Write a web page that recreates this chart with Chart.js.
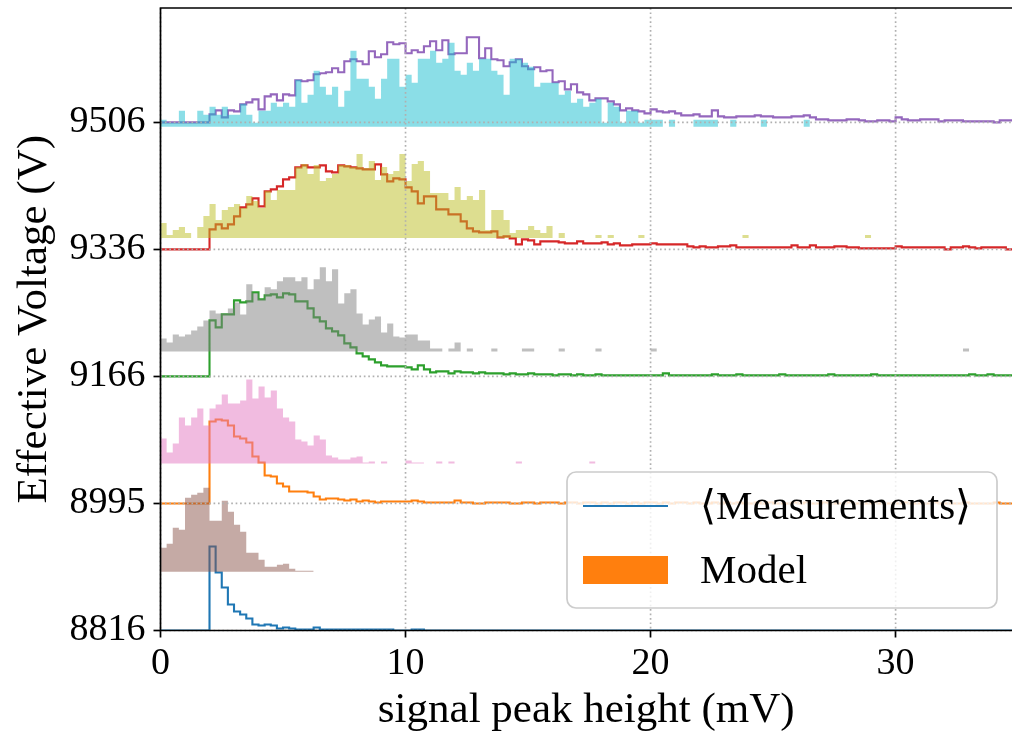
<!DOCTYPE html>
<html>
<head>
<meta charset="utf-8">
<script src="https://cdn.jsdelivr.net/npm/chart.js@4.4.1/dist/chart.umd.min.js"></script>
<style>
  html, body { margin: 0; padding: 0; background: #fff; }
  #wrap { width: 1012px; height: 737px; }
</style>
</head>
<body>
<div id="wrap"><canvas id="c" width="1012" height="737"></canvas></div>
<script>
// Histogram binning (mV)
const BIN_WIDTH = 0.25;
const X_MAX = 34.75;
const X_TICKS = [0, 10, 20, 30];

// Effective voltages, one ridge row each (bottom to top)
const VOLTAGES = ['8816', '8995', '9166', '9336', '9506'];

// Height units per row spacing, and where each model histogram sits inside its row
const ROW_SPAN = 127;
const MODEL_BASE = [0.463, 0.315, 0.197, 0.09, -0.035];
const Y_MAX = 4.9;

// Averaged measurements, one value per 0.25 mV bin
const meas8816 = [
  0,0,0,0,0,0,0,0,
  84,58,43,26,19,16,12,6,5,6,5,2,
  3,2,1,1,1,3,1,1,1,1,1,1,
  1,1,1,1,1,1,0,0,0,1,1,0,
  0,0,0,0,0,0,0,0,0,0,0,0,
  0,0,0,0,0,0,0,0,0,0,0,0,
  0,0,0,0,0,0,0,0,0,0,0,0,
  0,0,0,0,0,0,0,0,0,0,0,0,
  0,0,0,0,0,0,0,0,0,0,0,0,
  0,0,0,0,0,0,0,0,0,0,0,0,
  0,0,0,0,0,0,0,0,0,0,0,0,
  0,0,0,0,0,0,0,0,0,0,0
];
const meas8995 = [
  0,0,0,0,0,0,0,0,
  82,84,83,78,67,65,61,47,41,28,27,20,
  17,12,12,12,11,7,4,5,5,4,3,4,
  2,3,2,1,2,2,2,2,2,3,2,1,
  1,1,1,1,3,1,1,0,0,1,1,1,
  1,0,0,1,1,0,1,1,1,0,1,1,
  0,1,1,0,1,0,1,1,0,1,0,1,
  1,0,1,0,1,1,0,1,0,0,1,0,
  1,0,1,0,0,1,0,1,0,0,0,1,
  0,1,0,0,1,0,0,0,1,0,0,0,
  1,0,0,0,0,1,0,0,0,0,1,0,
  0,0,0,1,0,0,0,0,1,0,0
];
const meas9166 = [
  0,0,0,0,0,0,0,0,
  56,49,62,62,76,74,75,84,77,81,82,79,
  83,82,75,75,68,59,55,48,45,41,33,29,
  23,20,17,14,11,10,10,10,9,7,11,7,
  4,5,5,3,5,4,4,3,4,3,3,3,
  2,3,2,2,3,2,2,2,1,2,2,1,
  2,1,1,2,1,1,1,1,1,1,1,1,
  1,1,3,1,1,1,1,1,1,1,2,1,
  1,1,2,1,1,1,1,1,1,2,1,1,
  1,1,1,1,1,2,1,1,1,1,1,1,
  2,1,1,1,1,1,1,1,1,1,1,1,
  1,1,1,1,2,1,1,2,1,1,1
];
const meas9336 = [
  0,0,0,0,0,0,0,0,
  20,25,21,25,33,42,45,51,43,58,60,63,
  70,72,82,84,82,82,84,78,77,84,83,82,
  81,80,80,85,75,68,71,70,62,58,46,53,
  53,40,40,35,35,28,21,18,17,17,18,12,
  13,11,5,10,9,5,8,8,8,7,6,6,
  8,6,6,6,7,5,6,4,4,5,5,5,
  6,5,5,5,5,5,3,2,3,2,2,3,
  3,4,2,2,2,2,2,2,2,2,2,4,
  2,2,4,2,2,2,3,3,2,2,1,1,
  1,1,1,1,3,2,2,2,2,2,2,2,
  0,2,2,3,2,1,2,2,2,2,0
];
const meas9506 = [
  0,0,0,0,0,0,0,0,
  8,12,5,12,11,18,20,23,13,26,28,22,
  28,27,42,41,42,48,49,50,54,50,61,63,
  61,58,71,65,68,80,78,79,69,72,70,76,
  81,72,82,68,69,69,85,85,64,74,63,62,
  56,60,63,56,53,55,51,52,40,41,33,38,
  30,28,22,24,24,21,18,12,14,12,11,9,
  13,11,10,11,9,7,7,8,6,6,12,6,
  5,5,6,6,6,7,6,6,5,5,5,6,
  6,7,5,3,3,2,2,2,3,3,2,1,
  1,2,2,1,5,3,2,2,3,3,3,1,
  2,2,2,1,1,1,1,1,0,2,2
];

// Model histograms, one value per 0.25 mV bin
const model8816 = [
  24,28,44,42,74,77,79,84,51,51,71,60,
  47,40,19,19,12,5,5,7,8,3,1,1,1
];
const model8995 = [
  25,11,20,46,38,46,55,38,55,59,69,60,
  60,63,84,65,77,66,73,55,46,42,24,22,
  18,28,24,8,6,4,4,6,7,1,2,0,
  2,0,0,0,3,1,1,0,0,2,0,2,
  0,0,0,0,0,0,0,0,0,0,2,0,
  0,0,0,0,0,0,0,0,0,0,2
];
const model9166 = [
  13,9,17,15,17,21,25,31,41,38,38,43,
  49,37,67,58,52,64,62,70,74,74,70,74,
  62,72,84,70,82,48,58,62,38,27,32,35,
  19,28,15,14,17,17,11,11,3,3,0,3,
  9,0,3,0,0,0,3,0,0,0,0,3,
  3,0,0,0,0,3,0,0,0,0,0,3,
  0,0,0,0,0,0,0,0,3,0,0,0,
  0,0,0,0,0,0,0,0,0,0,0,0,
  0,0,0,0,0,0,0,0,0,0,0,0,
  0,0,0,0,0,0,0,0,0,0,0,0,
  0,0,0,0,0,0,0,0,0,0,0,3
];
const model9336 = [
  15,3,8,11,5,0,11,22,34,18,28,31,
  34,30,42,37,30,47,38,48,48,48,71,74,
  64,73,57,60,64,73,73,71,84,70,77,58,
  71,64,67,84,57,74,77,67,45,45,45,38,
  51,38,42,38,48,8,28,28,18,5,8,8,
  12,8,5,12,0,5,0,0,0,0,0,3,
  0,3,0,0,0,0,3,0,0,0,0,0,
  0,0,0,0,0,0,0,0,0,0,0,3,
  0,0,0,0,0,0,0,0,0,0,0,0,
  0,0,0,0,0,0,0,3
];
const model9506 = [
  7,4,4,16,4,4,16,12,20,12,20,12,
  12,23,12,4,16,16,24,20,24,20,47,24,
  32,56,40,32,40,20,36,76,48,48,40,28,
  48,68,68,40,52,44,68,68,76,64,68,84,
  56,52,64,56,68,68,56,52,32,68,68,64,
  60,40,44,44,44,32,36,24,28,20,24,28,
  4,24,20,4,16,16,4,7,7,7,0,7,
  0,0,0,7,7,7,7,0,0,7,0,0,
  0,0,7,0,0,0,0,0,0,7
];

const MEASUREMENTS = [meas8816, meas8995, meas9166, meas9336, meas9506];
const MODELS = [model8816, model8995, model9166, model9336, model9506];

const LINE_COLORS = ['#1f77b4', '#ff7f0e', '#2ca02c', '#d62728', '#9467bd'];
const FILL_COLORS = [
  'rgba(140,86,75,0.5)', 'rgba(227,119,194,0.5)', 'rgba(127,127,127,0.5)',
  'rgba(188,189,34,0.5)', 'rgba(23,190,207,0.5)'
];

const SERIF = '"Liberation Serif", "DejaVu Serif", serif';
Chart.defaults.font.family = SERIF;
Chart.defaults.color = '#000';

// Step outline through the bin left edges, closed at the last bin's right edge
function stairs(values, base) {
  const pts = values.map((v, i) => ({ x: i * BIN_WIDTH, y: base + v / ROW_SPAN }));
  pts.push({ x: values.length * BIN_WIDTH, y: pts[pts.length - 1].y });
  return pts;
}

const datasets = [];
VOLTAGES.forEach((volt, r) => {
  const base = r + MODEL_BASE[r];
  datasets.push({
    label: 'Model ' + volt,
    data: stairs(MODELS[r], base),
    stepped: true,
    borderWidth: 0,
    borderColor: 'rgba(0,0,0,0)',
    backgroundColor: FILL_COLORS[r],
    fill: { value: base },
    pointRadius: 0,
    order: 0
  });
  datasets.push({
    label: 'Measurements ' + volt,
    data: stairs(MEASUREMENTS[r], r),
    stepped: true,
    borderWidth: 2.1,
    borderColor: LINE_COLORS[r],
    fill: false,
    pointRadius: 0,
    order: 1
  });
});

// Dotted grid above the fills, then the axes frame
const framePlugin = {
  id: 'frame',
  afterDatasetsDraw(chart) {
    const { ctx, chartArea: a, scales: { x, y } } = chart;
    ctx.save();
    ctx.strokeStyle = '#b0b0b0';
    ctx.lineWidth = 1.67;
    ctx.setLineDash([1.67, 2.75]);
    ctx.beginPath();
    X_TICKS.forEach(v => {
      const px = x.getPixelForValue(v);
      ctx.moveTo(px, a.top);
      ctx.lineTo(px, a.bottom);
    });
    VOLTAGES.forEach((_, i) => {
      const py = y.getPixelForValue(i);
      ctx.moveTo(a.left, py);
      ctx.lineTo(a.right, py);
    });
    ctx.stroke();
    ctx.setLineDash([]);
    ctx.strokeStyle = '#000';
    ctx.lineWidth = 1.7;
    ctx.beginPath();
    ctx.moveTo(a.right, a.top);
    ctx.lineTo(a.left, a.top);
    ctx.lineTo(a.left, a.bottom);
    ctx.lineTo(a.right, a.bottom);
    ctx.stroke();
    ctx.restore();
  }
};

// Legend box in the lower right corner of the plot
const legendPlugin = {
  id: 'boxLegend',
  afterDraw(chart) {
    const { ctx, chartArea: a } = chart;
    const w = 430, h = 136, rad = 9;
    const bx = a.right - 15 - w, by = a.bottom - 22.5 - h;
    ctx.save();
    ctx.beginPath();
    ctx.roundRect(bx, by, w, h, rad);
    ctx.fillStyle = 'rgba(255,255,255,0.8)';
    ctx.fill();
    ctx.strokeStyle = '#cccccc';
    ctx.lineWidth = 1.7;
    ctx.stroke();

    const hx = bx + 16, hw = 85, tx = hx + hw + 32;
    const y1 = by + 34, y2 = by + 98;
    ctx.strokeStyle = LINE_COLORS[0];
    ctx.lineWidth = 2.1;
    ctx.beginPath();
    ctx.moveTo(hx, y1);
    ctx.lineTo(hx + hw, y1);
    ctx.stroke();
    ctx.fillStyle = LINE_COLORS[1];
    ctx.fillRect(hx, y2 - 14, hw, 28);

    ctx.fillStyle = '#000';
    ctx.font = '41px ' + SERIF;
    ctx.textBaseline = 'middle';
    ctx.textAlign = 'left';
    ctx.fillText('\u27E8Measurements\u27E9', tx, y1 + 2);
    ctx.fillText('Model', tx, y2 + 2);
    ctx.restore();
  }
};

const tickGrid = {
  display: true, drawOnChartArea: false, drawTicks: true,
  tickLength: 7, tickWidth: 1.7, tickColor: '#000'
};

// Keep the plot area fixed: no extra room reserved for overhanging tick labels
function noOverhang(s) {
  s.paddingTop = 0; s.paddingBottom = 0; s.paddingLeft = 0; s.paddingRight = 0;
}

new Chart(document.getElementById('c'), {
  type: 'line',
  data: { datasets },
  options: {
    responsive: false,
    animation: false,
    devicePixelRatio: 1,
    layout: { padding: { top: 8, left: 0, right: 0, bottom: 0 }, autoPadding: false },
    plugins: { legend: { display: false }, tooltip: { enabled: false } },
    elements: { line: { tension: 0 } },
    scales: {
      x: {
        type: 'linear', min: 0, max: X_MAX,
        afterBuildTicks: s => { s.ticks = X_TICKS.map(v => ({ value: v })); },
        afterFit: s => { s.height = 106.5; noOverhang(s); },
        grid: tickGrid,
        border: { display: false },
        ticks: { font: { size: 38 }, padding: 4, maxRotation: 0, autoSkip: false },
        title: { display: true, text: 'signal peak height (mV)', font: { size: 43 }, padding: { top: 0, bottom: 0 } }
      },
      y: {
        type: 'linear', min: 0, max: Y_MAX,
        afterBuildTicks: s => { s.ticks = VOLTAGES.map((_, i) => ({ value: i })); },
        afterFit: s => { s.width = 160.5; noOverhang(s); },
        grid: tickGrid,
        border: { display: false },
        ticks: { font: { size: 38 }, padding: 8, autoSkip: false, callback: v => VOLTAGES[v] ?? '' },
        title: { display: true, text: 'Effective Voltage (V)', font: { size: 43 }, padding: { top: 9, bottom: 0 } }
      }
    }
  },
  plugins: [framePlugin, legendPlugin]
});
</script>
</body>
</html>
